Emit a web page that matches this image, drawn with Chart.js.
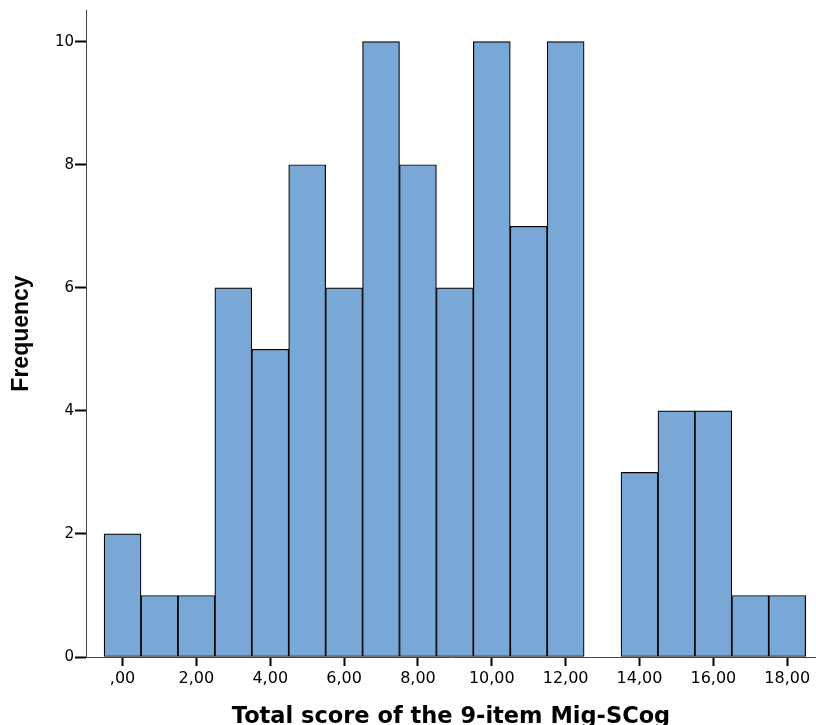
<!DOCTYPE html>
<html>
<head>
<meta charset="utf-8">
<script src="https://cdn.jsdelivr.net/npm/chart.js@4/dist/chart.umd.min.js"></script>
<style>
    html, body { margin: 0; padding: 0; background: #ffffff; }
    #wrap { width: 816px; height: 725px; }
</style>
</head>
<body>
<div id="wrap"><canvas id="histChart" width="816" height="725"></canvas></div>
<script>
// Score bins (bar centres) and frequencies
const scores = [0, 1, 2, 3, 4, 5, 6, 7, 8, 9, 10, 11, 12, 13, 14, 15, 16, 17, 18];
const frequencies = [2, 1, 1, 6, 5, 8, 6, 10, 8, 6, 10, 7, 10, 0, 3, 4, 4, 1, 1];

// Axis ticks
const xTickValues = [0, 2, 4, 6, 8, 10, 12, 14, 16, 18];
const xTickLabels = [",00", "2,00", "4,00", "6,00", "8,00", "10,00", "12,00", "14,00", "16,00", "18,00"];
const yTickValues = [0, 2, 4, 6, 8, 10];

const xTitle = "Total score of the 9-item Mig-SCog";
const yTitle = "Frequency";

const wideFont = "'DejaVu Sans', sans-serif";
const narrowFont = "'Liberation Sans', Arial, sans-serif";

//Build bar data (empty bins are left out)
const barData = scores.map((s, i) => ({ x: s, y: frequencies[i] === 0 ? null : frequencies[i] }));

const ctx = document.getElementById('histChart').getContext('2d');

new Chart(ctx, {
    type: 'bar',
    data: {
        datasets: [{
            label: yTitle,
            data: barData,
            backgroundColor: '#7aa8d6',
            borderColor: '#000000',
            borderWidth: 1.2,
            borderSkipped: false,
            barPercentage: 1,
            categoryPercentage: 1
        }]
    },
    options: {
        responsive: false,
        animation: false,
        layout: { padding: { top: 10, right: 0, bottom: 0, left: 0 } },
        plugins: {
            legend: { display: false },
            tooltip: { enabled: false }
        },
        scales: {
            x: {
                type: 'linear',
                offset: false,
                min: -0.99,
                max: 18.78,
                afterFit: (scale) => { scale.height = 68; },
                afterBuildTicks: (scale) => {
                    scale.ticks = xTickValues.map(v => ({ value: v }));
                },
                ticks: {
                    color: '#000000',
                    padding: 3,
                    maxRotation: 0,
                    autoSkip: false,
                    font: { family: wideFont, size: 16 },
                    callback: (value, index) => xTickLabels[index]
                },
                grid: {
                    offset: false,
                    drawOnChartArea: false,
                    drawTicks: true,
                    tickLength: 9,
                    tickWidth: 2,
                    tickColor: '#000000'
                },
                border: { display: true, color: '#444444', width: 1 },
                title: {
                    display: true,
                    text: xTitle,
                    color: '#000000',
                    font: { family: wideFont, size: 22.5, weight: 'bold', lineHeight: 1 },
                    padding: { top: 0, bottom: -3 }
                }
            },
            y: {
                min: 0,
                max: 10.515,
                afterFit: (scale) => { scale.width = 86; },
                afterBuildTicks: (scale) => {
                    scale.ticks = yTickValues.map(v => ({ value: v }));
                },
                ticks: {
                    color: '#000000',
                    padding: 1,
                    font: { family: wideFont, size: 15 }
                },
                grid: {
                    drawOnChartArea: false,
                    drawTicks: true,
                    tickLength: 11,
                    tickWidth: 2,
                    tickColor: '#000000'
                },
                border: { display: true, color: '#444444', width: 1 },
                title: {
                    display: true,
                    text: yTitle,
                    color: '#000000',
                    font: { family: narrowFont, size: 23, weight: 'bold', lineHeight: 1.2 },
                    padding: { top: 8, bottom: 0 }
                }
            }
        }
    }
});
</script>
</body>
</html>
